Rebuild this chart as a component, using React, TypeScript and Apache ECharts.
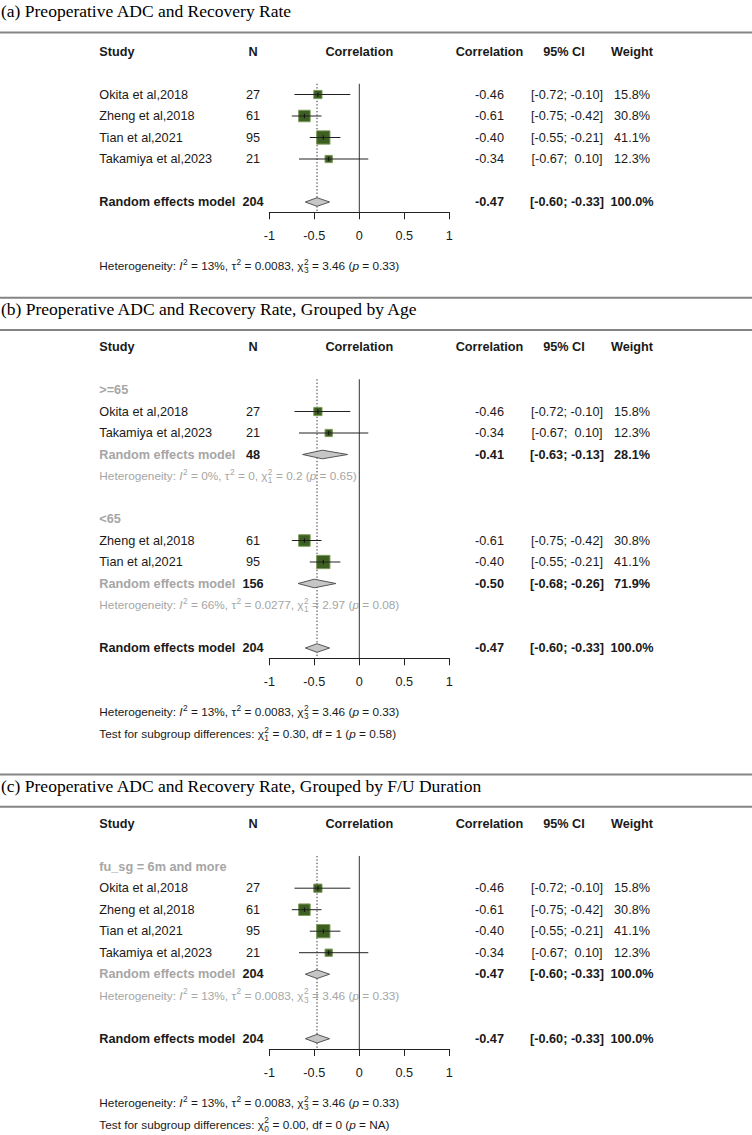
import React, { useEffect, useRef } from "react";
import * as echarts from "echarts";

// ---------------- data ----------------
const studies = ["Okita et al,2018", "Zheng et al,2018", "Tian et al,2021", "Takamiya et al,2023"];
const sampleN = [27, 61, 95, 21];
const correlation = [-0.46, -0.61, -0.4, -0.34];
const ciLower = [-0.72, -0.75, -0.55, -0.67];
const ciUpper = [-0.1, -0.42, -0.21, 0.1];
const weightPct = [15.8, 30.8, 41.1, 12.3];

const pooledN = 204;
const pooledCor = -0.47;
const pooledLower = -0.6;
const pooledUpper = -0.33;
const pooledWeight = 100.0;
const pooledHet = { i2: "13%", tau2: "0.0083", q: "3.46", df: "3", p: "0.33" };

const ageLabels = [">=65", "<65"];
const ageMembers = [[0, 3], [1, 2]];
const ageN = [48, 156];
const ageCor = [-0.41, -0.5];
const ageLower = [-0.63, -0.68];
const ageUpper = [-0.13, -0.26];
const ageWeight = [28.1, 71.9];
const ageI2 = ["0%", "66%"];
const ageTau2 = ["0", "0.0277"];
const ageQ = ["0.2", "2.97"];
const ageDf = ["1", "1"];
const ageP = ["0.65", "0.08"];
const ageTest = { q: "0.30", df: "1", dfText: "1", p: "0.58" };

const fuLabels = ["fu_sg = 6m and more"];
const fuMembers = [[0, 1, 2, 3]];
const fuN = [204];
const fuCor = [-0.47];
const fuLower = [-0.6];
const fuUpper = [-0.33];
const fuWeight = [100.0];
const fuI2 = ["13%"];
const fuTau2 = ["0.0083"];
const fuQ = ["3.46"];
const fuDf = ["3"];
const fuP = ["0.33"];
const fuTest = { q: "0.00", df: "0", dfText: "0", p: "NA" };

const xTicks = [-1, -0.5, 0, 0.5, 1];

const panelTitles = [
  "(a) Preoperative ADC and Recovery Rate",
  "(b) Preoperative ADC and Recovery Rate, Grouped by Age",
  "(c) Preoperative ADC and Recovery Rate, Grouped by F/U Duration",
];

// ---------------- layout / style ----------------
const FONT = "'Liberation Sans', Arial, Helvetica, sans-serif";
const FS = 12.7;
const FS_NOTE = 11.8;
const FS_SUP = 8.3;
const ROW = 21.5;
const COL = { study: 99.3, n: 253, corr: 489.5, ci: 567, ciHead: 564, weight: 632 };
const BLACK = "#1a1a1a";
const GRAY = "#a6a6a6";
const SQ_FILL = "#3e5f22";
const SQ_STROKE = "#7d9b5c";
const SQ_MAX = 13.3;

let measureCtx: any = null;
function measure(text: string, size: number, bold: boolean, italic: boolean) {
  if (!measureCtx) measureCtx = document.createElement("canvas").getContext("2d");
  measureCtx.font = `${italic ? "italic " : ""}${bold ? "bold " : ""}${size}px "Liberation Sans"`;
  return measureCtx.measureText(text).width;
}

function txt(x: number, y: number, text: string, o: any = {}) {
  return {
    type: "text",
    x,
    y,
    silent: true,
    style: {
      text,
      fill: o.color || BLACK,
      fontSize: o.size || FS,
      fontFamily: o.family || FONT,
      fontWeight: o.bold ? "bold" : "normal",
      fontStyle: o.italic ? "italic" : "normal",
      textAlign: o.align || "left",
      textVerticalAlign: "middle",
    },
  };
}

type Piece = { t?: string; it?: boolean; sup?: string; sub?: string };

function layoutPieces(pieces: Piece[], x0: number, y: number, color: string) {
  const out: any[] = [];
  let x = x0;
  for (const p of pieces) {
    if (p.t) {
      out.push(txt(x, y, p.t, { color, italic: !!p.it, size: FS_NOTE }));
      x += measure(p.t, FS_NOTE, false, !!p.it);
    }
    if (p.sup || p.sub) {
      let w = 0;
      if (p.sup) {
        out.push(txt(x + 0.4, y - 4.4, p.sup, { color, size: FS_SUP }));
        w = Math.max(w, measure(p.sup, FS_SUP, false, false));
      }
      if (p.sub) {
        out.push(txt(x + 0.4, y + 4.1, p.sub, { color, size: FS_SUP }));
        w = Math.max(w, measure(p.sub, FS_SUP, false, false));
      }
      x += w + 0.6;
    }
  }
  return out;
}

function hetPieces(i2: string, tau2: string, q: string, df: string, p: string): Piece[] {
  return [
    { t: "Heterogeneity: " },
    { t: "I", it: true },
    { sup: "2" },
    { t: " = " + i2 + ", \u03c4" },
    { sup: "2" },
    { t: " = " + tau2 + ", \u03c7" },
    { sup: "2", sub: df },
    { t: " = " + q + " (" },
    { t: "p", it: true },
    { t: " = " + p + ")" },
  ];
}

function testPieces(t: { q: string; df: string; dfText: string; p: string }): Piece[] {
  return [
    { t: "Test for subgroup differences: \u03c7" },
    { sup: "2", sub: t.df },
    { t: " = " + t.q + ", df = " + t.dfText + " (" },
    { t: "p", it: true },
    { t: " = " + t.p + ")" },
  ];
}

const fmt2 = (v: number) => v.toFixed(2);
const padCI = (v: number) => (v < 0 ? fmt2(v) : "\u00a0" + fmt2(v));
const ciText = (lo: number, hi: number) => `[${padCI(lo)}; ${padCI(hi)}]`;
const wText = (w: number) => w.toFixed(1) + "%";

type Group = {
  label: string; members: number[]; n: number; cor: number; lo: number; hi: number; w: number;
  het: Piece[];
};

function makeGroups(labels: string[], members: number[][], n: number[], cor: number[], lo: number[], hi: number[], w: number[], i2: string[], tau2: string[], q: string[], df: string[], p: string[]): Group[] {
  return labels.map((label, g) => ({
    label, members: members[g], n: n[g], cor: cor[g], lo: lo[g], hi: hi[g], w: w[g],
    het: hetPieces(i2[g], tau2[g], q[g], df[g], p[g]),
  }));
}

const ageGroups = makeGroups(ageLabels, ageMembers, ageN, ageCor, ageLower, ageUpper, ageWeight, ageI2, ageTau2, ageQ, ageDf, ageP);
const fuGroups = makeGroups(fuLabels, fuMembers, fuN, fuCor, fuLower, fuUpper, fuWeight, fuI2, fuTau2, fuQ, fuDf, fuP);

function makeRows(groups: Group[] | null) {
  const rows: any[] = [{ kind: "header", row: 0 }];
  let r = 2;
  if (!groups) {
    studies.forEach((_, i) => rows.push({ kind: "study", row: r++, idx: i }));
    r++;
  } else {
    groups.forEach((g, gi) => {
      rows.push({ kind: "glabel", row: r++, g: gi });
      g.members.forEach((i) => rows.push({ kind: "study", row: r++, idx: i }));
      rows.push({ kind: "gre", row: r++, g: gi });
      rows.push({ kind: "ghet", row: r++, g: gi });
      r++;
    });
  }
  rows.push({ kind: "pooled", row: r });
  return { rows, pooledRow: r };
}

const maxW = Math.max(...weightPct);

function buildPanel(headerY: number, groups: Group[] | null, test: any) {
  const { rows, pooledRow } = makeRows(groups);
  const axisRow = pooledRow + 10.3 / ROW;
  rows.unshift({ kind: "vlines", row: 1.5 });
  const foot: { off: number; pieces: Piece[] }[] = [
    { off: 54, pieces: hetPieces(pooledHet.i2, pooledHet.tau2, pooledHet.q, pooledHet.df, pooledHet.p) },
  ];
  if (test) foot.push({ off: 75.8, pieces: testPieces(test) });
  foot.forEach((f) => rows.push({ kind: "foot", row: axisRow, foot: f }));
  return { headerY, groups, rows, axisRow };
}

const panels = [
  buildPanel(51.5, null, null),
  buildPanel(347, ageGroups, ageTest),
  buildPanel(823.7, fuGroups, fuTest),
];

function diamond(X: (v: number) => number, y: number, lo: number, est: number, hi: number) {
  const h = 4.3;
  return {
    type: "polygon",
    silent: true,
    shape: { points: [[X(lo), y], [X(est), y - h], [X(hi), y], [X(est), y + h]] },
    style: { fill: "#c6c6c6", stroke: "#555", lineWidth: 1 },
  };
}

function renderRow(panel: any, r: any, api: any) {
  const y = api.coord([0, r.row])[1];
  const X = (v: number) => api.coord([v, r.row])[0];
  const ch: any[] = [];
  if (r.kind === "vlines") {
    const yEnd = api.coord([0, panel.axisRow])[1];
    ch.push({ type: "line", silent: true, shape: { x1: X(0), y1: y, x2: X(0), y2: yEnd }, style: { stroke: "#333", lineWidth: 1 } });
    ch.push({ type: "line", silent: true, shape: { x1: X(pooledCor), y1: y, x2: X(pooledCor), y2: yEnd }, style: { stroke: "#333", lineWidth: 1, lineDash: [1.4, 2] } });
  } else if (r.kind === "header") {
    ch.push(txt(COL.study, y, "Study", { bold: true }));
    ch.push(txt(COL.n, y, "N", { bold: true, align: "center" }));
    ch.push(txt(X(0), y, "Correlation", { bold: true, align: "center" }));
    ch.push(txt(COL.corr, y, "Correlation", { bold: true, align: "center" }));
    ch.push(txt(COL.ciHead, y, "95% CI", { bold: true, align: "center" }));
    ch.push(txt(COL.weight, y, "Weight", { bold: true, align: "center" }));
  } else if (r.kind === "study") {
    const i = r.idx;
    ch.push(txt(COL.study, y, studies[i]));
    ch.push(txt(COL.n, y, String(sampleN[i]), { align: "center" }));
    const s = SQ_MAX * Math.sqrt(weightPct[i] / maxW);
    const cx = X(correlation[i]);
    ch.push({ type: "rect", silent: true, shape: { x: cx - s / 2, y: y - s / 2, width: s, height: s }, style: { fill: SQ_FILL, stroke: SQ_STROKE, lineWidth: 1 } });
    ch.push({ type: "line", silent: true, shape: { x1: X(ciLower[i]), y1: y, x2: X(ciUpper[i]), y2: y }, style: { stroke: "#222", lineWidth: 1 } });
    ch.push({ type: "line", silent: true, shape: { x1: cx, y1: y - 2.2, x2: cx, y2: y + 2.2 }, style: { stroke: "#111", lineWidth: 1 } });
    ch.push(txt(COL.corr, y, fmt2(correlation[i]), { align: "center" }));
    ch.push(txt(COL.ci, y, ciText(ciLower[i], ciUpper[i]), { align: "center" }));
    ch.push(txt(COL.weight, y, wText(weightPct[i]), { align: "center" }));
  } else if (r.kind === "glabel") {
    ch.push(txt(COL.study, y, panel.groups[r.g].label, { bold: true, color: GRAY }));
  } else if (r.kind === "gre") {
    const g = panel.groups[r.g];
    ch.push(txt(COL.study, y, "Random effects model", { bold: true, color: GRAY }));
    ch.push(txt(COL.n, y, String(g.n), { bold: true, align: "center" }));
    ch.push(diamond(X, y, g.lo, g.cor, g.hi));
    ch.push(txt(COL.corr, y, fmt2(g.cor), { bold: true, align: "center" }));
    ch.push(txt(COL.ci, y, ciText(g.lo, g.hi), { bold: true, align: "center" }));
    ch.push(txt(COL.weight, y, wText(g.w), { bold: true, align: "center" }));
  } else if (r.kind === "ghet") {
    ch.push(...layoutPieces(panel.groups[r.g].het, COL.study, y, GRAY));
  } else if (r.kind === "pooled") {
    ch.push(txt(COL.study, y, "Random effects model", { bold: true }));
    ch.push(txt(COL.n, y, String(pooledN), { bold: true, align: "center" }));
    ch.push(diamond(X, y, pooledLower, pooledCor, pooledUpper));
    ch.push(txt(COL.corr, y, fmt2(pooledCor), { bold: true, align: "center" }));
    ch.push(txt(COL.ci, y, ciText(pooledLower, pooledUpper), { bold: true, align: "center" }));
    ch.push(txt(COL.weight, y, wText(pooledWeight), { bold: true, align: "center" }));
  } else if (r.kind === "foot") {
    ch.push(...layoutPieces(r.foot.pieces, COL.study, y + r.foot.off, BLACK));
  }
  return { type: "group", children: ch };
}

// title / separator positions (pixel layout)
const titleY = [11, 309, 785.7];
const sepLines = [32.5, 297.7, 330, 774.4, 806.7];

export default function App() {
  const ref = useRef<HTMLDivElement>(null);
  useEffect(() => {
    if (!ref.current) return;
    const chart = echarts.init(ref.current, undefined, { renderer: "svg" });
    const option: any = {
      animation: false,
      backgroundColor: "#ffffff",
      grid: panels.map((p) => ({ left: 269.3, width: 180, top: p.headerY, height: p.axisRow * ROW })),
      xAxis: panels.map((_, i) => ({
        type: "value",
        gridIndex: i,
        min: xTicks[0],
        max: xTicks[xTicks.length - 1],
        interval: 0.5,
        axisLine: { show: true, onZero: false, lineStyle: { color: "#222", width: 1 } },
        axisTick: { show: true, inside: false, length: 7, lineStyle: { color: "#222", width: 1 } },
        axisLabel: { show: true, margin: 17, fontSize: FS, fontFamily: FONT, color: BLACK, formatter: (v: number) => String(v) },
        splitLine: { show: false },
      })),
      yAxis: panels.map((p, i) => ({ type: "value", gridIndex: i, min: 0, max: p.axisRow, inverse: true, show: false })),
      series: panels.map((p, i) => ({
        type: "custom",
        xAxisIndex: i,
        yAxisIndex: i,
        clip: false,
        silent: true,
        data: p.rows.map((r: any) => [0, r.row]),
        renderItem: (params: any, api: any) => renderRow(p, p.rows[params.dataIndex], api),
      })),
      graphic: [
        ...panelTitles.map((t, i) => txt(1, titleY[i], t, { size: 17.5, family: "'Liberation Serif', 'Times New Roman', serif", color: "#000" })),
        ...sepLines.map((y) => ({ type: "line", silent: true, shape: { x1: 0, y1: y, x2: 752, y2: y }, style: { stroke: "#858585", lineWidth: 2 } })),
      ],
    };
    chart.setOption(option);
    return () => chart.dispose();
  }, []);
  return <div ref={ref} style={{ position: "absolute", left: 0, top: 0, width: 752, height: 1135, background: "#fff" }} />;
}
